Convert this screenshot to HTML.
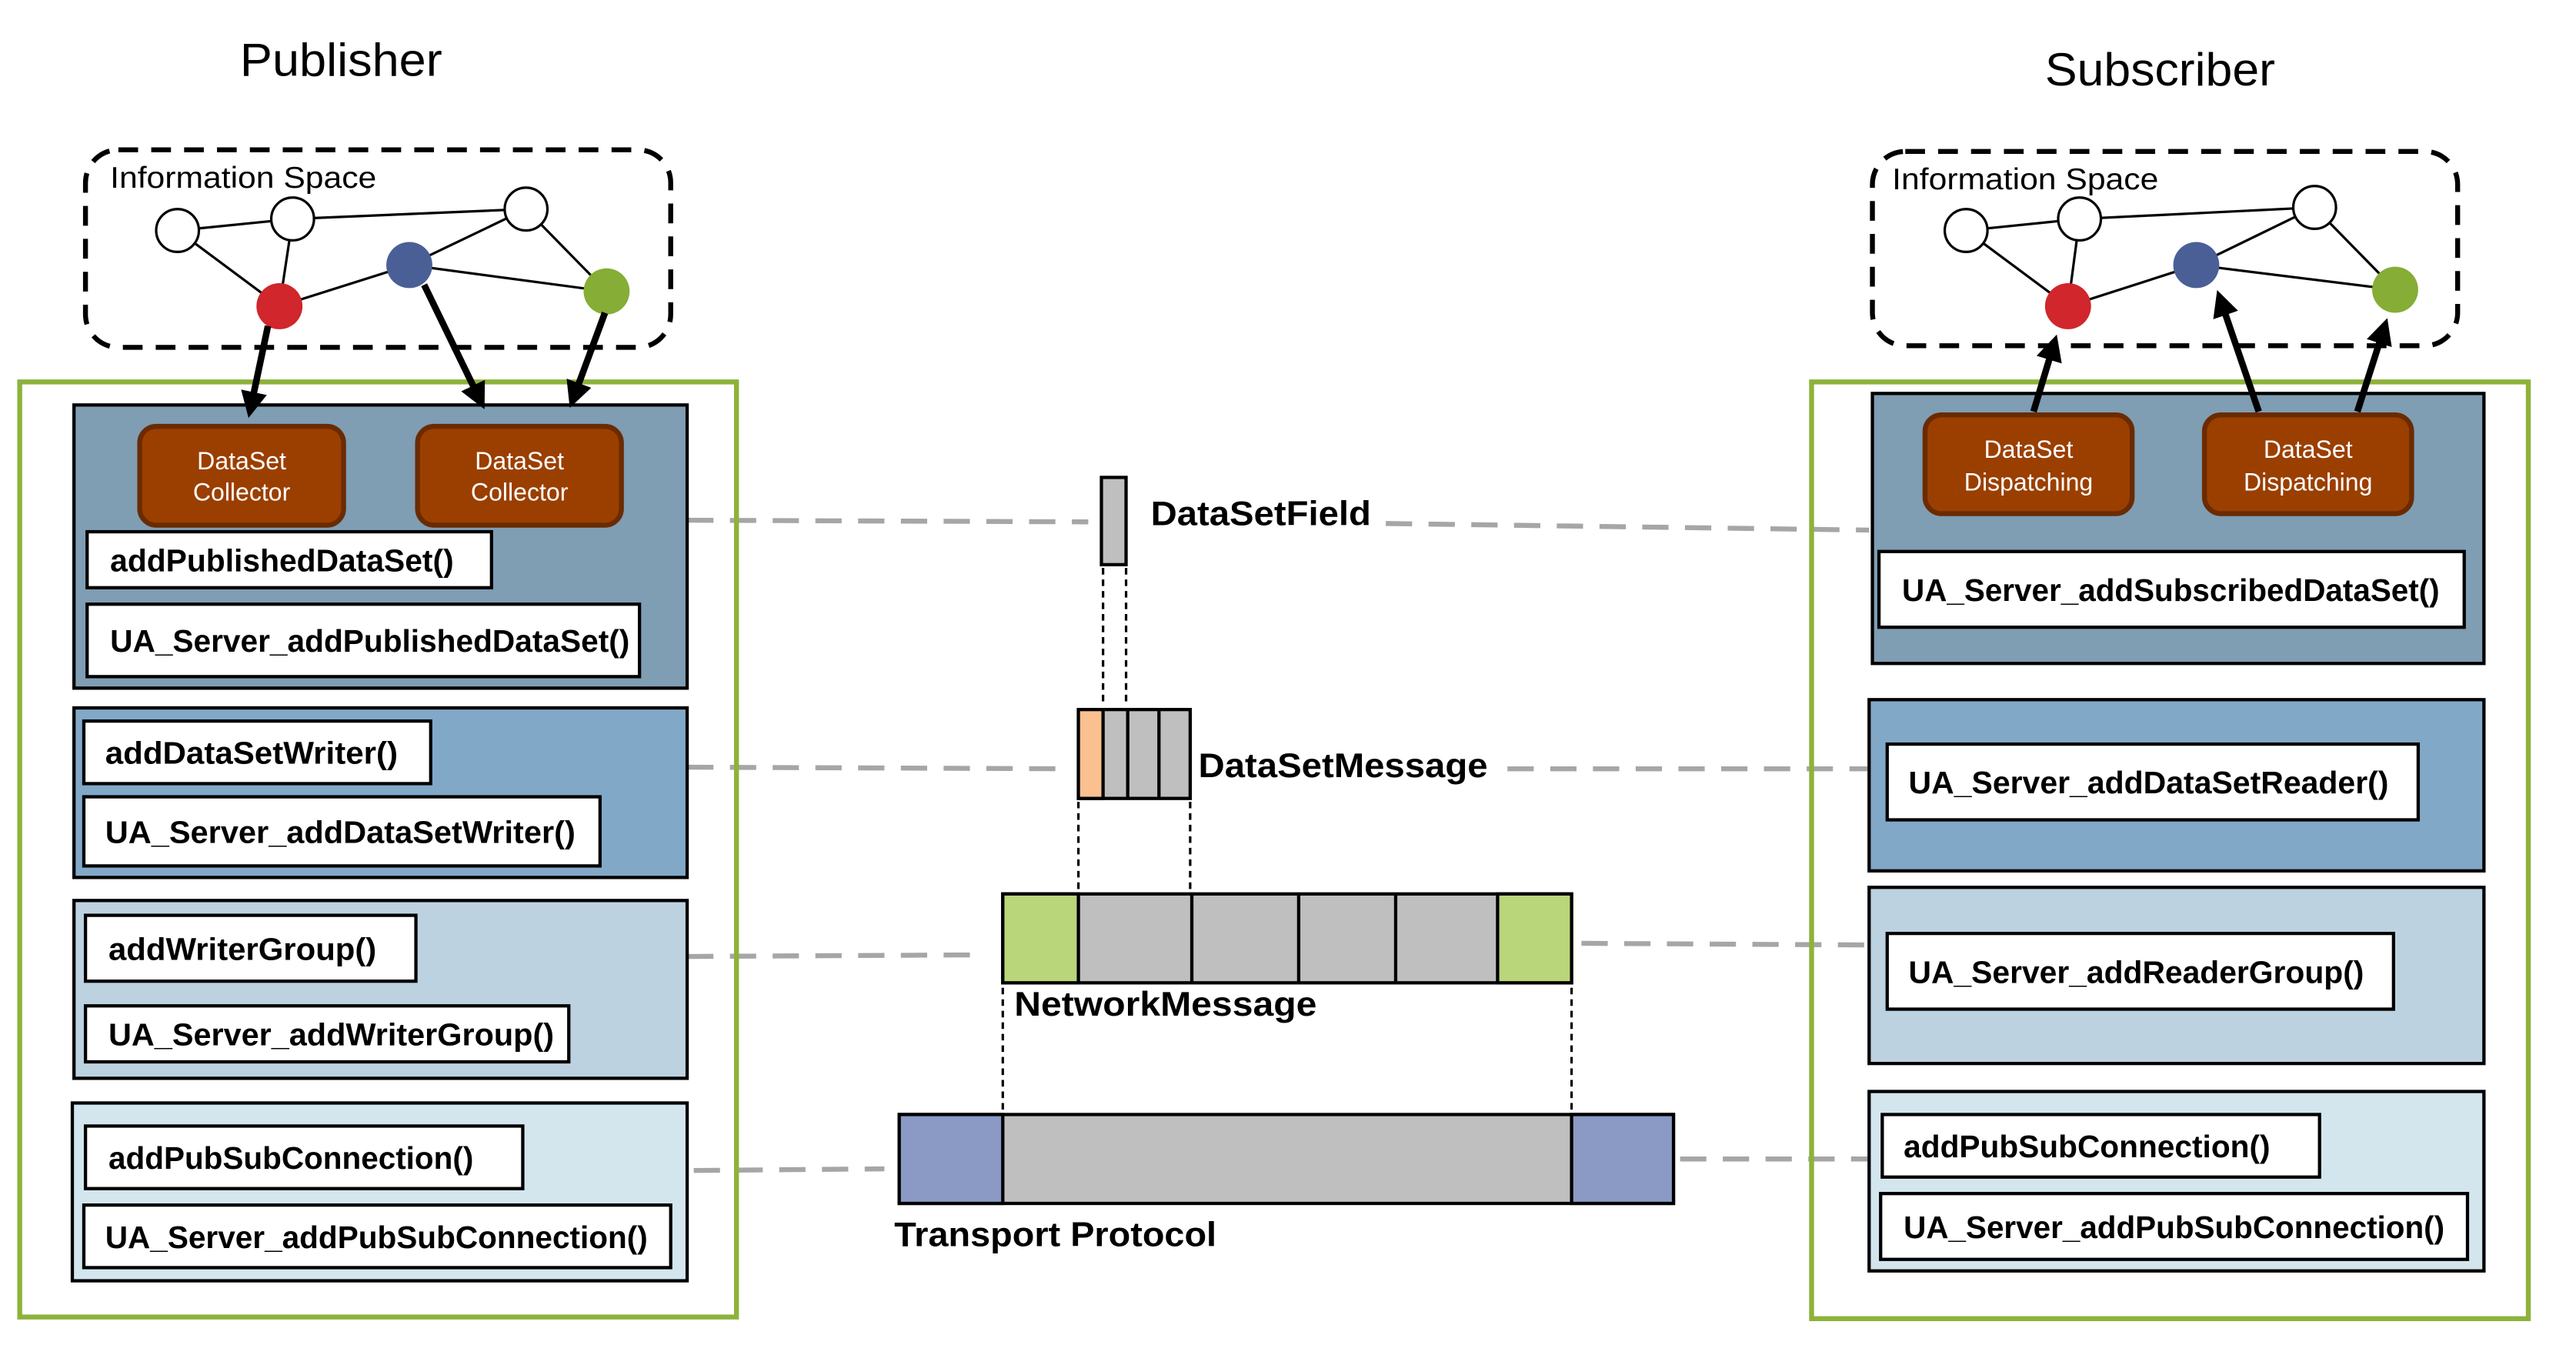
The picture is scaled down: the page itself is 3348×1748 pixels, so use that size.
<!DOCTYPE html>
<html><head><meta charset="utf-8"><style>html,body{margin:0;padding:0;background:#fff}svg{display:block}</style></head>
<body>
<svg width="3348" height="1748" viewBox="0 0 1567 817" preserveAspectRatio="none" xmlns="http://www.w3.org/2000/svg" font-family="Liberation Sans, sans-serif">
<defs>
<marker id="ah" markerWidth="4" markerHeight="4" refX="3" refY="2" orient="auto" markerUnits="strokeWidth"><path d="M0,0 L4,2 L0,4 Z" fill="#000"/></marker>
</defs>
<g stroke="#a6a6a6" stroke-width="3" stroke-dasharray="16 10" fill="none">
<line x1="418" y1="316" x2="662" y2="317"/><line x1="843" y1="318" x2="1137" y2="322"/>
<line x1="418" y1="466" x2="650" y2="467"/><line x1="917" y1="467" x2="1136" y2="467"/>
<line x1="418" y1="581" x2="598" y2="580"/><line x1="962" y1="573" x2="1136" y2="574"/>
<line x1="422" y1="711" x2="538" y2="710"/><line x1="1022" y1="704" x2="1136" y2="704"/>
</g>
<text x="146" y="46" font-size="28" textLength="123" lengthAdjust="spacingAndGlyphs">Publisher</text>
<text x="1244" y="52" font-size="28" textLength="140" lengthAdjust="spacingAndGlyphs">Subscriber</text>
<rect x="52" y="91" width="356" height="120" rx="20" fill="none" stroke="#000" stroke-width="3" stroke-dasharray="12 8"/>
<rect x="1139" y="92" width="356" height="118" rx="20" fill="none" stroke="#000" stroke-width="3" stroke-dasharray="12 8"/>
<text x="67" y="114" font-size="18" textLength="162" lengthAdjust="spacingAndGlyphs">Information Space</text>
<text x="1151" y="115" font-size="18" textLength="162" lengthAdjust="spacingAndGlyphs">Information Space</text>
<g stroke="#000" stroke-width="1.5">
<line x1="108" y1="140" x2="178" y2="133"/><line x1="178" y1="133" x2="320" y2="127"/><line x1="108" y1="140" x2="170" y2="186"/><line x1="178" y1="133" x2="170" y2="186"/><line x1="170" y1="186" x2="249" y2="161"/><line x1="249" y1="161" x2="320" y2="127"/><line x1="249" y1="161" x2="369" y2="177"/><line x1="320" y1="127" x2="369" y2="177"/>
<line x1="1196" y1="140" x2="1265" y2="133"/><line x1="1265" y1="133" x2="1408" y2="126"/><line x1="1196" y1="140" x2="1258" y2="186"/><line x1="1265" y1="133" x2="1258" y2="186"/><line x1="1258" y1="186" x2="1336" y2="161"/><line x1="1336" y1="161" x2="1408" y2="126"/><line x1="1336" y1="161" x2="1457" y2="176"/><line x1="1408" y1="126" x2="1457" y2="176"/>
</g>
<g stroke="#000" stroke-width="1.5">
<ellipse cx="108" cy="140" rx="13" ry="13" fill="#fff"/><ellipse cx="178" cy="133" rx="13" ry="13" fill="#fff"/><ellipse cx="320" cy="127" rx="13" ry="13" fill="#fff"/>
<ellipse cx="1196" cy="140" rx="13" ry="13" fill="#fff"/><ellipse cx="1265" cy="133" rx="13" ry="13" fill="#fff"/><ellipse cx="1408" cy="126" rx="13" ry="13" fill="#fff"/>
</g>
<circle cx="170" cy="186" r="14" fill="#d0262c"/><circle cx="249" cy="161" r="14" fill="#4a5f96"/><circle cx="369" cy="177" r="14" fill="#86ad35"/>
<circle cx="1258" cy="186" r="14" fill="#d0262c"/><circle cx="1336" cy="161" r="14" fill="#4a5f96"/><circle cx="1457" cy="176" r="14" fill="#86ad35"/>
<rect x="12" y="232" width="436" height="568" fill="none" stroke="#8db23b" stroke-width="3"/>
<rect x="1102" y="232" width="436" height="569" fill="none" stroke="#8db23b" stroke-width="3"/>
<g stroke="#000" stroke-width="2">
<rect x="45" y="246" width="373" height="172" fill="#7f9db3"/>
<rect x="45" y="430" width="373" height="103" fill="#82a8c8"/>
<rect x="45" y="547" width="373" height="108" fill="#bcd2e0"/>
<rect x="44" y="670" width="374" height="108" fill="#d3e6ed"/>
<rect x="1139" y="239" width="372" height="164" fill="#7f9db3"/>
<rect x="1137" y="425" width="374" height="104" fill="#82a8c8"/>
<rect x="1137" y="539" width="374" height="107" fill="#bcd2e0"/>
<rect x="1137" y="663" width="374" height="109" fill="#d3e6ed"/>
</g>
<g fill="#9b3f00" stroke="#6a2b00" stroke-width="3">
<rect x="85" y="259" width="124" height="60" rx="10"/><rect x="254" y="259" width="124" height="60" rx="10"/>
<rect x="1171" y="252" width="126" height="60" rx="10"/><rect x="1341" y="252" width="126" height="60" rx="10"/>
</g>
<g fill="#fff" font-size="15" text-anchor="middle">
<text x="147" y="285">DataSet</text><text x="147" y="304">Collector</text>
<text x="316" y="285">DataSet</text><text x="316" y="304">Collector</text>
<text x="1234" y="278">DataSet</text><text x="1234" y="298">Dispatching</text>
<text x="1404" y="278">DataSet</text><text x="1404" y="298">Dispatching</text>
</g>
<g stroke="#000" stroke-width="4" marker-end="url(#ah)">
<line x1="163" y1="198" x2="152" y2="250"/><line x1="258" y1="173" x2="293" y2="245"/><line x1="368" y1="190" x2="348" y2="244"/>
<line x1="1237" y1="250" x2="1250" y2="207"/><line x1="1374" y1="250" x2="1350" y2="180"/><line x1="1434" y1="250" x2="1451" y2="197"/>
</g>
<g fill="#fff" stroke="#000" stroke-width="2">
<rect x="53" y="323" width="246" height="34"/><rect x="53" y="367" width="336" height="44"/>
<rect x="51" y="438" width="211" height="38"/><rect x="51" y="484" width="314" height="42"/>
<rect x="52" y="556" width="201" height="40"/><rect x="52" y="611" width="294" height="34"/>
<rect x="52" y="684" width="266" height="38"/><rect x="51" y="732" width="357" height="38"/>
<rect x="1143" y="335" width="356" height="46"/>
<rect x="1148" y="452" width="323" height="46"/>
<rect x="1148" y="567" width="308" height="46"/>
<rect x="1145" y="677" width="266" height="38"/><rect x="1144" y="725" width="357" height="40"/>
</g>
<g font-size="19" font-weight="bold">
<text x="67" y="347" textLength="209" lengthAdjust="spacingAndGlyphs">addPublishedDataSet()</text>
<text x="67" y="396" textLength="316" lengthAdjust="spacingAndGlyphs">UA_Server_addPublishedDataSet()</text>
<text x="64" y="464" textLength="178" lengthAdjust="spacingAndGlyphs">addDataSetWriter()</text>
<text x="64" y="512" textLength="286" lengthAdjust="spacingAndGlyphs">UA_Server_addDataSetWriter()</text>
<text x="66" y="583" textLength="163" lengthAdjust="spacingAndGlyphs">addWriterGroup()</text>
<text x="66" y="635" textLength="271" lengthAdjust="spacingAndGlyphs">UA_Server_addWriterGroup()</text>
<text x="66" y="710" textLength="222" lengthAdjust="spacingAndGlyphs">addPubSubConnection()</text>
<text x="64" y="758" textLength="330" lengthAdjust="spacingAndGlyphs">UA_Server_addPubSubConnection()</text>
<text x="1157" y="365" textLength="327" lengthAdjust="spacingAndGlyphs">UA_Server_addSubscribedDataSet()</text>
<text x="1161" y="482" textLength="292" lengthAdjust="spacingAndGlyphs">UA_Server_addDataSetReader()</text>
<text x="1161" y="597" textLength="277" lengthAdjust="spacingAndGlyphs">UA_Server_addReaderGroup()</text>
<text x="1158" y="703" textLength="223" lengthAdjust="spacingAndGlyphs">addPubSubConnection()</text>
<text x="1158" y="752" textLength="329" lengthAdjust="spacingAndGlyphs">UA_Server_addPubSubConnection()</text>
</g>
<g stroke="#000" stroke-width="1.5" stroke-dasharray="4 3">
<line x1="671" y1="345" x2="671" y2="428"/><line x1="685" y1="345" x2="685" y2="428"/>
<line x1="656" y1="487" x2="656" y2="542"/><line x1="724" y1="487" x2="724" y2="542"/>
<line x1="610" y1="600" x2="610" y2="676"/><line x1="956" y1="600" x2="956" y2="676"/>
</g>
<g stroke="#000" stroke-width="2">
<rect x="670" y="290" width="15" height="53" fill="#bfbfbf"/>
<rect x="656" y="431" width="68" height="54" fill="#bfbfbf"/>
<rect x="656" y="431" width="15" height="54" fill="#fac090"/>
<line x1="686" y1="431" x2="686" y2="485"/><line x1="705" y1="431" x2="705" y2="485"/>
<rect x="610" y="543" width="346" height="54" fill="#bfbfbf"/>
<rect x="610" y="543" width="46" height="54" fill="#b9d67a"/><rect x="911" y="543" width="45" height="54" fill="#b9d67a"/>
<line x1="725" y1="543" x2="725" y2="597"/><line x1="790" y1="543" x2="790" y2="597"/><line x1="849" y1="543" x2="849" y2="597"/>
<rect x="547" y="677" width="471" height="54" fill="#bfbfbf"/>
<rect x="547" y="677" width="63" height="54" fill="#8a9ac5"/><rect x="956" y="677" width="62" height="54" fill="#8a9ac5"/>
</g>
<g font-size="21" font-weight="bold">
<text x="700" y="319" textLength="134" lengthAdjust="spacingAndGlyphs">DataSetField</text>
<text x="729" y="472" textLength="176" lengthAdjust="spacingAndGlyphs">DataSetMessage</text>
<text x="617" y="617" textLength="184" lengthAdjust="spacingAndGlyphs">NetworkMessage</text>
<text x="544" y="757" textLength="196" lengthAdjust="spacingAndGlyphs">Transport Protocol</text>
</g>
</svg>
</body></html>
